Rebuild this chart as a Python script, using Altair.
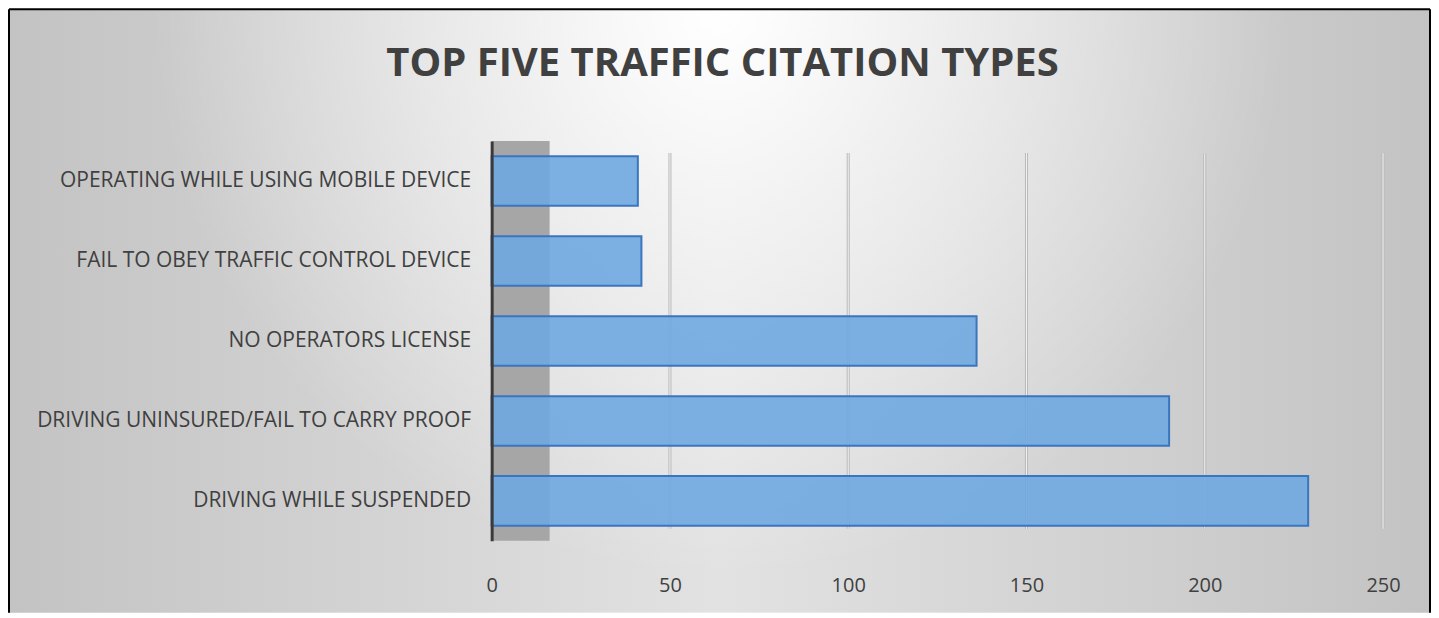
import altair as alt
import pandas as pd

# ---- data ----
categories = [
    "OPERATING WHILE USING MOBILE DEVICE",
    "FAIL TO OBEY TRAFFIC CONTROL DEVICE",
    "NO OPERATORS LICENSE",
    "DRIVING UNINSURED/FAIL TO CARRY PROOF",
    "DRIVING WHILE SUSPENDED",
]
citations = [41, 42, 136, 190, 229]
axis_ticks = [0, 50, 100, 150, 200, 250]
grid_ticks = [50, 100, 150, 200, 250]
TITLE = "TOP FIVE TRAFFIC CITATION TYPES"

# ---- layout (pixels) ----
PLOT_W, PLOT_H = 892, 400
PAD_L, PAD_T = 483, 132
FULL_W, FULL_H = 1422, 604
L, R = -PAD_L, FULL_W - PAD_L
T, B = -PAD_T, FULL_H - PAD_T
# radial gradients are drawn in a square of side max(w, h) centred on the box
TOP_UNIT = 0.5 - (FULL_H / 2) / FULL_W

bars_df = pd.DataFrame({"category": categories, "citations": citations})
grid_df = pd.DataFrame({"tick": grid_ticks})
frame_df = pd.DataFrame({"k": [0]})

x_scale = alt.Scale(domain=[0, 250], nice=False, zero=True)
y_scale = alt.Scale(domain=categories, paddingInner=0.38, paddingOuter=0.19)
x_axis = alt.Axis(title=None, values=axis_ticks, labelFont="Open Sans",
                  labelFontSize=20, labelColor="#404040", labelPadding=35,
                  ticks=False, domain=False, grid=False, zindex=1,
                  labelFlush=False)

base_fill = alt.LinearGradient(
    gradient="linear", x1=0, y1=0, x2=1, y2=0,
    stops=[
        alt.GradientStop(offset=0, color="#c3c3c3"),
        alt.GradientStop(offset=0.5, color="#e2e2e2"),
        alt.GradientStop(offset=1, color="#c3c3c3"),
    ],
)
glow_fill = alt.RadialGradient(
    gradient="radial", x1=0.5, y1=TOP_UNIT, r1=0, x2=0.5, y2=TOP_UNIT, r2=0.40,
    stops=[
        alt.GradientStop(offset=0, color="rgba(255,255,255,1)"),
        alt.GradientStop(offset=0.35, color="rgba(255,255,255,0.6)"),
        alt.GradientStop(offset=1, color="rgba(255,255,255,0)"),
    ],
)

frame = alt.Chart(frame_df)
bg = frame.mark_rect(fill=base_fill, strokeWidth=0).encode(
    x=alt.value(L), x2=alt.value(R), y=alt.value(T), y2=alt.value(B))
glow = frame.mark_rect(fill=glow_fill, strokeWidth=0).encode(
    x=alt.value(L), x2=alt.value(R), y=alt.value(T), y2=alt.value(B))
border_l = frame.mark_rule(color="#000000", strokeWidth=2).encode(
    x=alt.value(L), y=alt.value(T), y2=alt.value(B))
border_t = frame.mark_rule(color="#000000", strokeWidth=2).encode(
    x=alt.value(L), x2=alt.value(R), y=alt.value(T))
border_r = frame.mark_rule(color="#000000", strokeWidth=2).encode(
    x=alt.value(R), y=alt.value(T), y2=alt.value(B))

wall = frame.mark_rect(fill="#a6a6a6").encode(
    x=alt.value(0), x2=alt.value(58), y=alt.value(0), y2=alt.value(PLOT_H))

grid_outer = alt.Chart(grid_df).mark_rule(color="#b9b9b9", strokeWidth=3).encode(
    x=alt.X("tick:Q", scale=x_scale, axis=x_axis),
    y=alt.value(12), y2=alt.value(PLOT_H - 12))
grid_inner = alt.Chart(grid_df).mark_rule(color="#f3f3f3", strokeWidth=1).encode(
    x=alt.X("tick:Q", scale=x_scale, axis=x_axis),
    y=alt.value(12), y2=alt.value(PLOT_H - 12))

bars = alt.Chart(bars_df).mark_bar(
    fill="#6fa7e0", stroke="#3a76c0", strokeWidth=2, fillOpacity=0.9
).encode(
    x=alt.X("citations:Q", scale=x_scale, axis=x_axis),
    y=alt.Y("category:N", scale=y_scale, sort=None,
            axis=alt.Axis(title=None, labelFont="Open Sans", labelFontSize=21,
                          labelColor="#404040", labelPadding=21, ticks=False,
                          domain=True, domainColor="#3a3a3a", domainWidth=3,
                          grid=False, labelLimit=700, zindex=1)),
)

chart = alt.layer(
    bg, glow, border_l, border_t, border_r, grid_outer, grid_inner, wall, bars
).properties(
    width=PLOT_W,
    height=PLOT_H,
    padding=0,
    title=alt.TitleParams(
        TITLE, font="Open Sans", fontSize=40, fontWeight="bold",
        color="#404040", anchor="middle", frame="bounds",
        baseline="alphabetic", offset=-108, dx=3),
).configure_view(stroke=None)

chart.save("out.html", embed_options={"renderer": "svg", "actions": False})
